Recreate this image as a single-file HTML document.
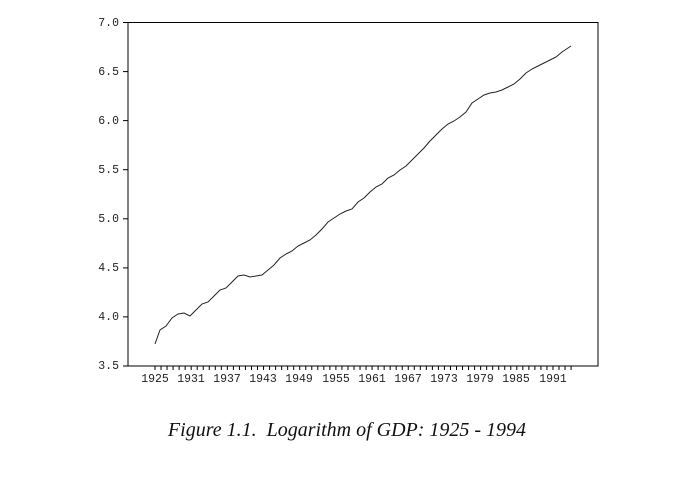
<!DOCTYPE html>
<html><head><meta charset="utf-8"><style>body{margin:0;background:#fff}</style></head>
<body>
<svg width="678" height="498" xmlns="http://www.w3.org/2000/svg">
<rect width="678" height="498" fill="#fff"/>
<rect x="128" y="22.5" width="470" height="343.5" fill="none" stroke="#000" stroke-width="1"/>
<g stroke="#000" stroke-width="1">
<line x1="123" y1="22.5" x2="128" y2="22.5"/>
<line x1="123" y1="71.6" x2="128" y2="71.6"/>
<line x1="123" y1="120.6" x2="128" y2="120.6"/>
<line x1="123" y1="169.7" x2="128" y2="169.7"/>
<line x1="123" y1="218.8" x2="128" y2="218.8"/>
<line x1="123" y1="267.9" x2="128" y2="267.9"/>
<line x1="123" y1="316.9" x2="128" y2="316.9"/>
<line x1="123" y1="366" x2="128" y2="366"/>
</g>
<g id="xt" stroke="#000" stroke-width="1"></g>
<g font-family="Liberation Mono, monospace" font-size="11.5" fill="#222" text-anchor="end">
<text x="119" y="26">7.0</text><text x="119" y="75">6.5</text><text x="119" y="124">6.0</text>
<text x="119" y="173">5.5</text><text x="119" y="222">5.0</text><text x="119" y="271">4.5</text>
<text x="119" y="320">4.0</text><text x="119" y="369">3.5</text>
</g>
<g font-family="Liberation Mono, monospace" font-size="11.5" fill="#222" text-anchor="middle">
<text x="155" y="382">1925</text><text x="191" y="382">1931</text><text x="227" y="382">1937</text>
<text x="263" y="382">1943</text><text x="299" y="382">1949</text><text x="336" y="382">1955</text>
<text x="372" y="382">1961</text><text x="408" y="382">1967</text><text x="444" y="382">1973</text>
<text x="480" y="382">1979</text><text x="516" y="382">1985</text><text x="553" y="382">1991</text>
</g>
<polyline fill="none" stroke="#222" stroke-width="1" points="155,344 160,330 166,326 172,318 178,314 184,313 190,316 196,310 202,304 208,302 214,296 220,290 226,288 232,282 238,276 244,275 250,277 256,276 262,275 268,270 274,265 280,258 286,254 292,251 298,246 304,243 310,240 316,235 322,229 328,222 334,218 340,214 346,211 352,209 358,202 364,198 370,192 376,187 382,184 388,178 394,175 400,170 406,166 412,160 418,154 424,148 430,141 436,135 442,129 448,124 454,121 460,117 466,112 472,103 478,99 484,95 490,93 496,92 502,90 508,87 514,84 520,79 526,73 532,69 538,66 544,63 550,60 556,57 562,52 568,48 571,46"/>
<text x="347" y="436" font-family="Liberation Serif, serif" font-style="italic" font-size="20" fill="#111" text-anchor="middle">Figure 1.1.&#160; Logarithm of GDP: 1925 - 1994</text>
<script>
var g=document.getElementById('xt');
for(var y=1925;y<=1994;y++){var x=155+(y-1925)*6.03;var l=document.createElementNS('http://www.w3.org/2000/svg','line');l.setAttribute('x1',x);l.setAttribute('x2',x);l.setAttribute('y1',366);l.setAttribute('y2',370);g.appendChild(l);}
</script>
</svg>
</body></html>
